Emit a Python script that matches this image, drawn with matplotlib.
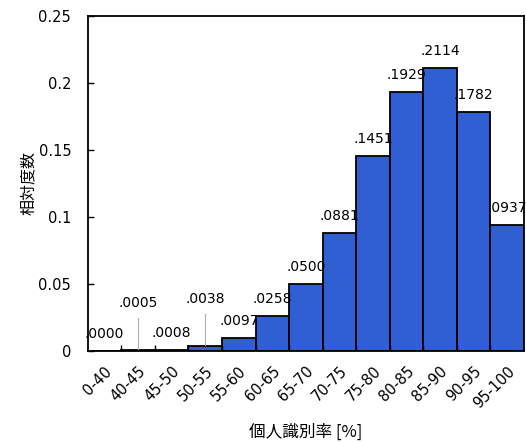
import numpy as np
import matplotlib
matplotlib.use('Agg')
import matplotlib.pyplot as plt

plt.rcParams['font.family'] = ['DejaVu Sans', 'Noto Sans CJK JP']

categories = ['0-40', '40-45', '45-50', '50-55', '55-60', '60-65', '65-70',
              '70-75', '75-80', '80-85', '85-90', '90-95', '95-100']
freq = [0.0000, 0.0005, 0.0008, 0.0038, 0.0097, 0.0258, 0.0500,
        0.0881, 0.1451, 0.1929, 0.2114, 0.1782, 0.0937]
labels = ['.0000', '.0005', '.0008', '.0038', '.0097', '.0258', '.0500',
          '.0881', '.1451', '.1929', '.2114', '.1782', '.0937']
raised = [1, 3]  # labels lifted up with a leader line

fig = plt.figure(figsize=(5.26, 4.42), dpi=100)
ax = fig.add_axes([0.167, 0.206, 0.829, 0.758])

x = np.arange(len(categories))
ax.bar(x, freq, width=1.0, color='#2f5fd2', edgecolor='black', linewidth=1.3)

for i, (v, s) in enumerate(zip(freq, labels)):
    if i in raised:
        ax.annotate(s, (i, v), xytext=(0, 47), textcoords='offset pixels',
                    ha='center', va='center', fontsize=10)
        ax.plot([i, i], [v + 0.0008, v + 0.024], color='#b0b0b0', lw=0.8)
    else:
        ax.annotate(s, (i, v), xytext=(0, 17), textcoords='offset pixels',
                    ha='center', va='center', fontsize=10)

ax.set_xlim(-0.5, len(categories) - 0.5)
ax.set_ylim(0, 0.25)
ax.set_yticks([0, 0.05, 0.1, 0.15, 0.2, 0.25])
ax.set_yticklabels(['0', '0.05', '0.1', '0.15', '0.2', '0.25'])
ax.set_xticks(x)
ax.set_xticklabels(categories, rotation=45, ha='right', rotation_mode='anchor')
ax.set_xticks(np.arange(0.5, len(categories) - 1, 1.0), minor=True)

ax.tick_params(axis='y', direction='in', length=4, width=1, labelsize=10.5, pad=12)
ax.tick_params(axis='x', which='major', length=0, labelsize=10.5, pad=9)
ax.tick_params(axis='x', which='minor', direction='in', length=4, width=1)
for sp in ax.spines.values():
    sp.set_linewidth(1.3)

ax.set_ylabel('相対度数', family=['Noto Sans CJK JP'], fontsize=11.5, labelpad=1)
ax.set_xlabel('個人識別率 [%]', family=['Noto Sans CJK JP', 'DejaVu Sans'],
              fontsize=12, labelpad=9)

fig.savefig('out.png', dpi=100)
